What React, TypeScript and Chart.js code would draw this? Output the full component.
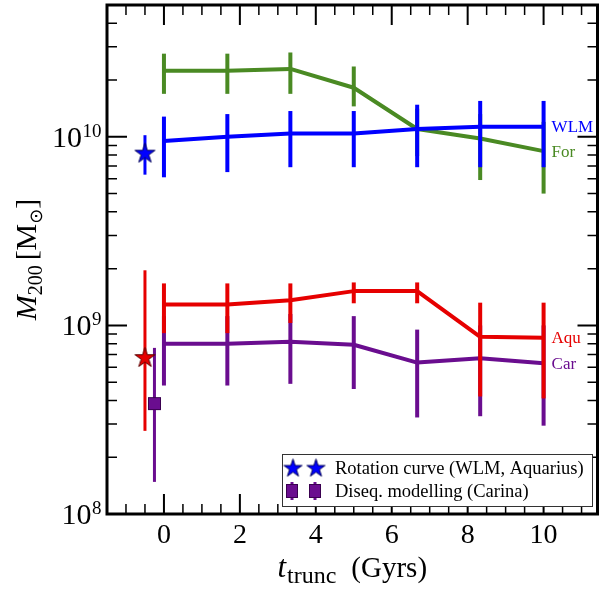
import React, { useEffect, useRef } from "react";
import { Chart, registerables } from "chart.js";
Chart.register(...registerables);

// ---------- data ----------
const tTrunc = [0, 1.67, 3.33, 5, 6.67, 8.33, 10];

const forMass = [2.24e10, 2.24e10, 2.29e10, 1.82e10, 1.1e10, 9.8e9, 8.4e9];
const forLow = [1.69e10, 1.69e10, 1.69e10, 1.45e10, 7.9e9, 5.9e9, 5.0e9];
const forHigh = [2.76e10, 2.76e10, 2.8e10, 2.36e10, 1.41e10, 1.32e10, 1.2e10];

const wlmMass = [9.5e9, 1.0e10, 1.04e10, 1.04e10, 1.1e10, 1.13e10, 1.13e10];
const wlmLow = [6.1e9, 6.5e9, 6.9e9, 6.9e9, 6.9e9, 6.9e9, 6.9e9];
const wlmHigh = [1.28e10, 1.32e10, 1.37e10, 1.37e10, 1.48e10, 1.55e10, 1.55e10];

const aquMass = [1.29e9, 1.29e9, 1.36e9, 1.52e9, 1.52e9, 8.7e8, 8.6e8];
const aquLow = [9.1e8, 9.1e8, 1.03e9, 1.31e9, 1.31e9, 4.2e8, 4.1e8];
const aquHigh = [1.67e9, 1.67e9, 1.67e9, 1.69e9, 1.69e9, 1.32e9, 1.32e9];

const carMass = [8.0e8, 8.0e8, 8.2e8, 7.9e8, 6.35e8, 6.7e8, 6.3e8];
const carLow = [4.8e8, 4.8e8, 4.9e8, 4.6e8, 3.25e8, 3.3e8, 2.94e8];
const carHigh = [1.12e9, 1.12e9, 1.15e9, 1.12e9, 9.5e8, 1.0e9, 1.0e9];

// rotation-curve estimates (stars)
const rcWlmTime = [-0.5];
const rcWlmMass = [8.2e9];
const rcWlmLow = [6.3e9];
const rcWlmHigh = [1.02e10];

const rcAquTime = [-0.5];
const rcAquMass = [6.76e8];
const rcAquLow = [2.76e8];
const rcAquHigh = [1.96e9];

// disequilibrium modelling (square)
const dqCarTime = [-0.25];
const dqCarMass = [3.85e8];
const dqCarLow = [1.48e8];
const dqCarHigh = [7.6e8];

const seriesLabels = ["WLM", "For", "Aqu", "Car"];
const legendLabels = ["Rotation curve (WLM, Aquarius)", "Diseq. modelling (Carina)"];
const xMajorTicks = [0, 2, 4, 6, 8, 10];
const yMajorTicks = [1e8, 1e9, 1e10];
const yTickExponents = ["8", "9", "10"];
const xTitleMain = "t";
const xTitleSub = "trunc";
const xTitleUnit = "(Gyrs)";

const X_MIN = -1.5;
const X_MAX = 11.42;
const Y_MIN = 1e8;
const Y_MAX = 5e10;

const BLUE = "#0000ff";
const GREEN = "#4a8a23";
const RED = "#e60000";
const PURPLE = "#6a0d8f";
const FAM = '"Liberation Serif", "DejaVu Serif", serif';

function starCanvas(fill: string, stroke: string, R: number) {
  const size = Math.ceil(R * 2 + 4);
  const c = document.createElement("canvas");
  c.width = size;
  c.height = size;
  const g = c.getContext("2d")!;
  const cx = size / 2;
  const cy = size / 2 + R * 0.05;
  const r = R * 0.382;
  g.beginPath();
  for (let i = 0; i < 10; i++) {
    const a = -Math.PI / 2 + (i * Math.PI) / 5;
    const rad = i % 2 ? r : R;
    g.lineTo(cx + rad * Math.cos(a), cy + rad * Math.sin(a));
  }
  g.closePath();
  g.fillStyle = fill;
  g.fill();
  g.strokeStyle = stroke;
  g.lineWidth = 1;
  g.stroke();
  return c;
}

function squareCanvas(fill: string, stroke: string, w: number, h: number) {
  const c = document.createElement("canvas");
  c.width = w + 2;
  c.height = h + 2;
  const g = c.getContext("2d")!;
  g.fillStyle = fill;
  g.fillRect(1, 1, w, h);
  g.strokeStyle = stroke;
  g.lineWidth = 1;
  g.strokeRect(1.5, 1.5, w - 1, h - 1);
  return c;
}

const pts = (xs: number[], ys: number[]) => xs.map((x, i) => ({ x, y: ys[i] }));

const errorBarPlugin = {
  id: "errorBars",
  beforeDatasetDraw(chart: any, args: any) {
    const ds: any = chart.data.datasets[args.index];
    if (!ds.errLow) return;
    const ctx = chart.ctx;
    const xs = chart.scales.x;
    const ys = chart.scales.y;
    ctx.save();
    ctx.strokeStyle = ds.errColor;
    ctx.lineWidth = ds.errWidth;
    ctx.lineCap = "butt";
    ds.data.forEach((p: any, i: number) => {
      const x = xs.getPixelForValue(p.x);
      ctx.beginPath();
      ctx.moveTo(x, ys.getPixelForValue(ds.errLow[i]));
      ctx.lineTo(x, ys.getPixelForValue(ds.errHigh[i]));
      ctx.stroke();
    });
    ctx.restore();
  },
};

const decorPlugin = {
  id: "decor",
  afterDraw(chart: any, _args: any, opts: any) {
    const ctx = chart.ctx;
    const xs = chart.scales.x;
    const ys = chart.scales.y;
    const { left, right, top, bottom } = chart.chartArea;
    ctx.save();

    // ticks
    ctx.strokeStyle = "#000";
    const xTick = (v: number, major: boolean) => {
      const x = xs.getPixelForValue(v);
      const L = major ? 20 : 10;
      ctx.lineWidth = major ? 2 : 1.5;
      ctx.beginPath();
      ctx.moveTo(x, bottom);
      ctx.lineTo(x, bottom - L);
      ctx.moveTo(x, top);
      ctx.lineTo(x, top + L);
      ctx.stroke();
    };
    for (let k = Math.ceil(X_MIN * 2) + 1; k / 2 < X_MAX; k++) {
      const v = k / 2;
      xTick(v, xMajorTicks.includes(v));
    }
    const yTick = (v: number, major: boolean) => {
      const y = ys.getPixelForValue(v);
      const L = major ? 20 : 10;
      ctx.lineWidth = major ? 2 : 1.5;
      ctx.beginPath();
      ctx.moveTo(left, y);
      ctx.lineTo(left + L, y);
      ctx.moveTo(right, y);
      ctx.lineTo(right - L, y);
      ctx.stroke();
    };
    for (let d = 8; d <= 10; d++) {
      for (let m = 1; m <= 9; m++) {
        const v = m * Math.pow(10, d);
        if (v <= Y_MIN || v >= Y_MAX) continue;
        yTick(v, m === 1);
      }
    }

    // frame
    ctx.lineWidth = 3;
    ctx.strokeRect(left, top, right - left, bottom - top);

    ctx.fillStyle = "#000";
    ctx.textBaseline = "alphabetic";
    // y tick labels
    yMajorTicks.forEach((v, i) => {
      const y = ys.getPixelForValue(v);
      ctx.font = `30px ${FAM}`;
      const wMain = ctx.measureText("10").width;
      ctx.font = `19px ${FAM}`;
      const wSup = ctx.measureText(yTickExponents[i]).width;
      const x0 = left - 6 - wSup - wMain;
      ctx.textAlign = "left";
      ctx.font = `30px ${FAM}`;
      ctx.fillText("10", x0, y + 10);
      ctx.font = `19px ${FAM}`;
      ctx.fillText(yTickExponents[i], x0 + wMain + 0.5, y);
    });
    // x tick labels
    ctx.font = `28px ${FAM}`;
    ctx.textAlign = "center";
    xMajorTicks.forEach((v) => {
      ctx.fillText(String(v), xs.getPixelForValue(v), bottom + 29);
    });

    // x title
    ctx.textAlign = "left";
    ctx.font = `italic 31px ${FAM}`;
    const wt = ctx.measureText(xTitleMain).width;
    ctx.font = `24px ${FAM}`;
    const ws = ctx.measureText(xTitleSub).width;
    ctx.font = `29px ${FAM}`;
    const wu = ctx.measureText(xTitleUnit).width;
    const gap = 15;
    const total = wt + 1 + ws + gap + wu;
    let xx = (left + right) / 2 - total / 2;
    const bl = bottom + 63;
    ctx.font = `italic 31px ${FAM}`;
    ctx.fillText(xTitleMain, xx, bl);
    xx += wt + 1;
    ctx.font = `24px ${FAM}`;
    ctx.fillText(xTitleSub, xx, bl + 6);
    xx += ws + gap;
    ctx.font = `29px ${FAM}`;
    ctx.fillText(xTitleUnit, xx, bl);

    // y title (rotated)
    ctx.save();
    ctx.translate(36, (top + bottom) / 2);
    ctx.rotate(-Math.PI / 2);
    const parts: [string, string, number][] = [
      ["M", `italic 30px ${FAM}`, 0],
      ["200", `20px ${FAM}`, 6],
      [" ", `20px ${FAM}`, 0],
      ["[", `30px ${FAM}`, 0],
      ["M", `30px ${FAM}`, 0],
      ["\u2299", `18px "DejaVu Sans", ${FAM}`, 6],
      ["]", `30px ${FAM}`, 0],
    ];
    let tw = 0;
    const widths = parts.map(([s, f]) => {
      ctx.font = f;
      const w = ctx.measureText(s).width;
      tw += w;
      return w;
    });
    let u = -tw / 2;
    parts.forEach(([s, f, dv], i) => {
      ctx.font = f;
      ctx.fillText(s, u, dv);
      u += widths[i];
    });
    ctx.restore();

    // series labels
    const lastX = xs.getPixelForValue(tTrunc[tTrunc.length - 1]) + 8;
    const lastVals = [wlmMass, forMass, aquMass, carMass].map((a) => a[a.length - 1]);
    const labColors = [BLUE, GREEN, RED, PURPLE];
    ctx.font = `17px ${FAM}`;
    ctx.textBaseline = "middle";
    seriesLabels.forEach((s, i) => {
      ctx.fillStyle = labColors[i];
      ctx.fillText(s, lastX, ys.getPixelForValue(lastVals[i]) + 1);
    });

    // legend
    const lx = 282, ly = 454, lw = 310, lh = 52;
    ctx.fillStyle = "#fff";
    ctx.fillRect(lx, ly, lw, lh);
    ctx.strokeStyle = "#333";
    ctx.lineWidth = 1;
    ctx.strokeRect(lx + 0.5, ly + 0.5, lw, lh);
    const star = opts.star;
    const sq = opts.square;
    const r1 = ly + 14, r2 = ly + 37;
    [293, 316].forEach((x) => {
      if (star) ctx.drawImage(star, x - star.width / 2, r1 - star.height / 2);
      ctx.strokeStyle = PURPLE;
      ctx.lineWidth = 3;
      ctx.beginPath();
      ctx.moveTo(x - 1, r2 - 9);
      ctx.lineTo(x - 1, r2 + 9);
      ctx.stroke();
      if (sq) ctx.drawImage(sq, x - 1 - sq.width / 2, r2 - sq.height / 2);
    });
    ctx.fillStyle = "#000";
    ctx.font = `18.5px ${FAM}`;
    ctx.textBaseline = "middle";
    ctx.textAlign = "left";
    ctx.fillText(legendLabels[0], 335, r1 + 1);
    ctx.fillText(legendLabels[1], 335, r2 + 1);

    ctx.restore();
  },
};

export default function App() {
  const ref = useRef<HTMLCanvasElement>(null);
  useEffect(() => {
    if (!ref.current) return;
    const blueStar = starCanvas(BLUE, "#00005a", 10.5);
    const redStar = starCanvas(RED, "#5a0000", 10.5);
    const purpleSq = squareCanvas(PURPLE, "#3a0050", 13, 13);
    const legendStar = starCanvas(BLUE, "#00005a", 9.5);
    const legendSquare = squareCanvas(PURPLE, "#3a0050", 12, 14);
    const lineDs = (label: string, ys: number[], lo: number[], hi: number[], color: string, order: number) => ({
      type: "line",
      label,
      data: pts(tTrunc, ys),
      borderColor: color,
      borderWidth: 4,
      pointRadius: 0,
      fill: false,
      tension: 0,
      borderJoinStyle: "round",
      errLow: lo,
      errHigh: hi,
      errColor: color,
      errWidth: 4,
      order,
    });
    const markDs = (label: string, xs: number[], ys: number[], lo: number[], hi: number[], color: string, style: any) => ({
      type: "scatter",
      label,
      data: pts(xs, ys),
      showLine: false,
      pointStyle: style,
      pointRadius: 10,
      errLow: lo,
      errHigh: hi,
      errColor: color,
      errWidth: 3,
      order: 0,
    });
    const chart: any = new Chart(ref.current, {
      type: "line",
      data: {
        datasets: [
          lineDs("Aqu", aquMass, aquLow, aquHigh, RED, 1),
          lineDs("WLM", wlmMass, wlmLow, wlmHigh, BLUE, 2),
          lineDs("Car", carMass, carLow, carHigh, PURPLE, 3),
          lineDs("For", forMass, forLow, forHigh, GREEN, 4),
          markDs("WLM RC", rcWlmTime, rcWlmMass, rcWlmLow, rcWlmHigh, BLUE, blueStar),
          markDs("Aqu RC", rcAquTime, rcAquMass, rcAquLow, rcAquHigh, RED, redStar),
          markDs("Car DM", dqCarTime, dqCarMass, dqCarLow, dqCarHigh, PURPLE, purpleSq),
        ] as any,
      },
      options: {
        animation: false,
        responsive: false,
        devicePixelRatio: 1,
        layout: { autoPadding: false, padding: { left: 107, right: 2.5, top: 5, bottom: 75 } },
        scales: {
          x: { type: "linear", min: X_MIN, max: X_MAX, display: false },
          y: { type: "logarithmic", min: Y_MIN, max: Y_MAX, display: false },
        },
        plugins: {
          legend: { display: false },
          tooltip: { enabled: false },
          decor: { star: legendStar, square: legendSquare },
        },
        events: [],
      },
      plugins: [errorBarPlugin, decorPlugin],
    } as any);
    return () => chart.destroy();
  }, []);
  return (
    <div style={{ position: "absolute", left: 0, top: 0, width: 600, height: 589, background: "#fff" }}>
      <canvas ref={ref} width={600} height={589} style={{ display: "block", width: 600, height: 589 }} />
    </div>
  );
}
